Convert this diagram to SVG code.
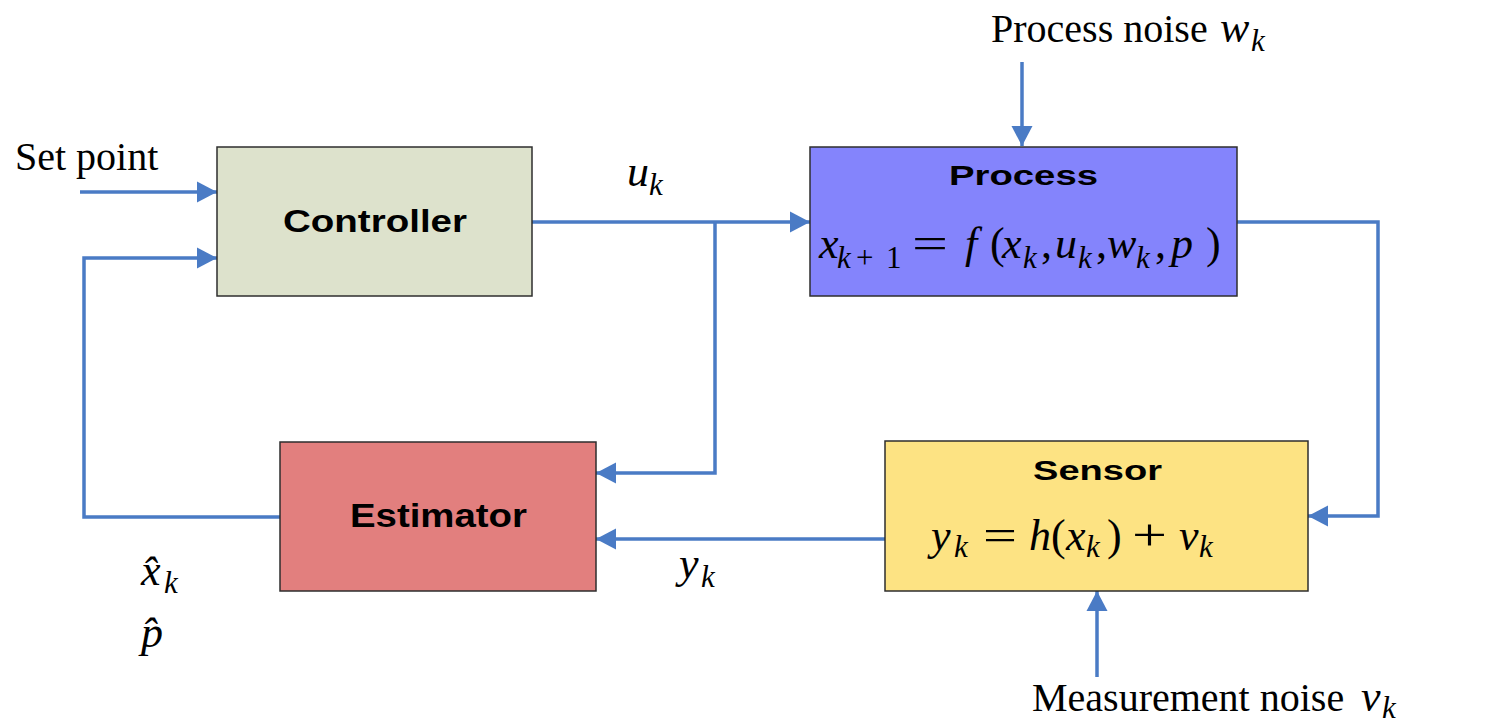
<svg xmlns="http://www.w3.org/2000/svg" width="1493" height="724" viewBox="0 0 1493 724">
<defs>
<marker id="arr" markerUnits="userSpaceOnUse" markerWidth="21" markerHeight="22" refX="20" refY="11" orient="auto">
<path d="M0,0.5 L20,11 L0,21.5 z" fill="#4a7bc5"/>
</marker>
<style>
.box{stroke:#2e2e2e;stroke-width:1.5}
.ttl{font-family:"Liberation Sans",Arial,sans-serif;font-weight:bold;fill:#000}
.lbl{font-family:"Liberation Serif","Times New Roman",serif;font-size:40px;fill:#000}
.m{font-family:"Liberation Serif","Times New Roman",serif;font-style:italic;font-size:44px;fill:#000}
.s{font-size:31px}
.up{font-style:normal}
.con{fill:none;stroke:#4a7bc5;stroke-width:3.5}
</style>
</defs>
<rect width="1493" height="724" fill="#ffffff"/>

<g id="connectors">
<path class="con" d="M80,192 H217" marker-end="url(#arr)"/>
<path class="con" d="M280,517 H84 V258 H217" marker-end="url(#arr)"/>
<path class="con" d="M532,222 H810" marker-end="url(#arr)"/>
<path class="con" d="M715,222 V473 H596" marker-end="url(#arr)"/>
<path class="con" d="M1237,222 H1378 V516 H1308" marker-end="url(#arr)"/>
<path class="con" d="M885,539 H596" marker-end="url(#arr)"/>
<path class="con" d="M1022,62 V146" marker-end="url(#arr)"/>
<path class="con" d="M1097,677 V591" marker-end="url(#arr)"/>
</g>

<g id="controller">
<rect class="box" x="217" y="147" width="315" height="149" fill="#dde2cc"/>
<text class="ttl" x="283" y="232" font-size="32" textLength="184" lengthAdjust="spacingAndGlyphs">Controller</text>
</g>

<g id="process">
<rect class="box" x="810" y="147" width="427" height="149" fill="#8484fc"/>
<text class="ttl" x="949" y="185" font-size="28" textLength="149" lengthAdjust="spacingAndGlyphs">Process</text>
<text class="m" y="258"><tspan x="819">x</tspan><tspan class="s" x="837" y="268">k</tspan><tspan class="s up" x="856" y="268">+</tspan><tspan class="s up" x="886" y="268">1</tspan><tspan x="965" y="258">f</tspan><tspan class="up" x="990">(</tspan><tspan x="1002">x</tspan><tspan class="s" x="1023" y="268">k</tspan><tspan class="up" x="1041" y="258">,</tspan><tspan x="1055">u</tspan><tspan class="s" x="1078" y="268">k</tspan><tspan class="up" x="1096" y="258">,</tspan><tspan x="1107">w</tspan><tspan class="s" x="1136" y="268">k</tspan><tspan class="up" x="1155" y="258">,</tspan><tspan x="1171">p</tspan><tspan class="up" x="1206">)</tspan></text>
<text class="m up" x="912" y="258" textLength="36" lengthAdjust="spacingAndGlyphs">=</text>
</g>

<g id="estimator">
<rect class="box" x="280" y="442" width="316" height="149" fill="#e27f7e"/>
<text class="ttl" x="350" y="527" font-size="33" textLength="177" lengthAdjust="spacingAndGlyphs">Estimator</text>
</g>

<g id="sensor">
<rect class="box" x="885" y="441" width="423" height="150" fill="#fde383"/>
<text class="ttl" x="1033" y="480" font-size="28" textLength="129" lengthAdjust="spacingAndGlyphs">Sensor</text>
<text class="m" y="550"><tspan x="931">y</tspan><tspan class="s" x="954" y="557">k</tspan><tspan x="1029" y="550">h</tspan><tspan class="up" x="1051">(</tspan><tspan x="1066">x</tspan><tspan class="s" x="1086" y="557">k</tspan><tspan class="up" x="1107" y="550">)</tspan><tspan x="1179">v</tspan><tspan class="s" x="1199" y="557">k</tspan></text>
<text class="m up" x="983" y="550" textLength="34" lengthAdjust="spacingAndGlyphs">=</text>
<text class="m up" x="1132" y="550" textLength="35" lengthAdjust="spacingAndGlyphs">+</text>
</g>

<g id="labels">
<text class="lbl" x="15" y="170" font-size="45">Set point</text>
<text class="m"><tspan x="627" y="186">u</tspan><tspan class="s" x="649" y="195">k</tspan></text>
<text class="m"><tspan x="679" y="578">y</tspan><tspan class="s" x="701" y="587">k</tspan></text>
<text class="m"><tspan x="141" y="585">x̂</tspan><tspan class="s" x="164" y="593">k</tspan></text>
<text class="m" x="141" y="647">p̂</text>
<text class="lbl" y="42"><tspan x="991">Process noise</tspan><tspan class="m" x="1220">w</tspan><tspan class="m s" x="1251" y="51">k</tspan></text>
<text class="lbl" y="711"><tspan x="1032">Measurement noise</tspan><tspan class="m" x="1361">v</tspan><tspan class="m s" x="1382" y="718">k</tspan></text>
</g>
</svg>
